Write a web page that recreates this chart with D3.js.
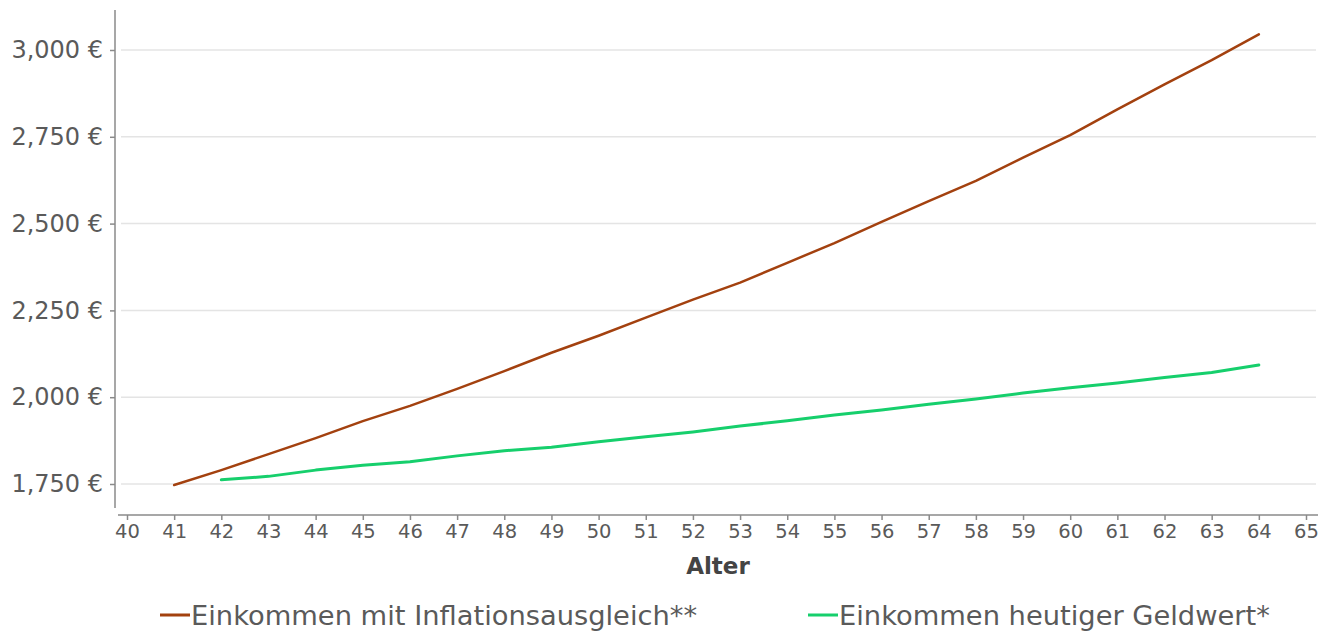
<!DOCTYPE html>
<html>
<head>
<meta charset="utf-8">
<script src="https://cdn.jsdelivr.net/npm/d3@7"></script>
<style>
  html, body { margin: 0; padding: 0; background: #fff; }
  svg { display: block; font-family: "DejaVu Sans", sans-serif; }
</style>
</head>
<body>
<svg id="chart" width="1339" height="633"></svg>
<script>
// ---- data ----
const agesInflation = [41,42,43,44,45,46,47,48,49,50,51,52,53,54,55,56,57,58,59,60,61,62,63,64];
const incomeInflation = [1747,1790,1836,1882,1931,1975,2024,2075,2128,2177,2229,2281,2330,2387,2444,2505,2565,2623,2690,2755,2829,2901,2971,3045];
const agesToday = [42,43,44,45,46,47,48,49,50,51,52,53,54,55,56,57,58,59,60,61,62,63,64];
const incomeToday = [1762,1772,1790,1804,1814,1831,1846,1856,1872,1886,1900,1917,1932,1949,1963,1980,1995,2012,2027,2041,2057,2071,2093];
const xTicks = d3.range(40, 66);
const yTicks = [1750, 2000, 2250, 2500, 2750, 3000];
const seriesNames = ["Einkommen mit Inflationsausgleich**", "Einkommen heutiger Geldwert*"];
const seriesColors = ["#a3410f", "#16cf6c"];
const xTitle = "Alter";

// ---- layout ----
const svg = d3.select("#chart");
const x = d3.scaleLinear().domain([40, 65]).range([127, 1306]);
const y = d3.scaleLinear().domain([1750, 3000]).range([484, 50]);
const plotTop = 10, plotBottom = 508, axisY = 515, axisX = 115;

// gridlines
svg.append("g").selectAll("line").data(yTicks).join("line")
  .attr("x1", 121).attr("x2", 1316)
  .attr("y1", d => y(d)).attr("y2", d => y(d))
  .attr("stroke", "#e4e4e4").attr("stroke-width", 1.5);

// y axis
const yAxis = d3.axisLeft(y).tickValues(yTicks).tickSize(5).tickPadding(7)
  .tickFormat(d => d3.format(",")(d) + " €");
const gy = svg.append("g").attr("transform", `translate(${axisX},0)`).call(yAxis);
gy.select(".domain").remove();
gy.append("line").attr("x1", 0).attr("x2", 0).attr("y1", plotTop).attr("y2", plotBottom)
  .attr("stroke", "#8a8a8a").attr("stroke-width", 1.5);
gy.selectAll(".tick line").attr("stroke", "#8a8a8a").attr("stroke-width", 1.5);
gy.selectAll(".tick text").attr("fill", "#5a5a5a").style("font-size", "24px")
  .style("font-family", "DejaVu Sans, sans-serif");

// x axis
const xAxis = d3.axisBottom(x).tickValues(xTicks).tickSize(5).tickPadding(4).tickFormat(d3.format("d"));
const gx = svg.append("g").attr("transform", `translate(0,${axisY})`).call(xAxis);
gx.select(".domain").remove();
gx.append("line").attr("x1", 118).attr("x2", 1318).attr("y1", 0).attr("y2", 0)
  .attr("stroke", "#8a8a8a").attr("stroke-width", 1.5);
gx.selectAll(".tick line").attr("stroke", "#8a8a8a").attr("stroke-width", 1.5);
gx.selectAll(".tick text").attr("fill", "#5a5a5a").style("font-size", "19.5px")
  .style("font-family", "DejaVu Sans, sans-serif");

svg.append("text").attr("x", 718).attr("y", 574).attr("text-anchor", "middle")
  .attr("fill", "#444").style("font-size", "23px").style("font-weight", "bold").text(xTitle);

// lines
const line = d3.line().x(d => x(d[0])).y(d => y(d[1]));
const seriesData = [
  d3.zip(agesInflation, incomeInflation),
  d3.zip(agesToday, incomeToday)
];
svg.append("g").selectAll("path").data(seriesData).join("path")
  .attr("d", line).attr("fill", "none")
  .attr("stroke", (d, i) => seriesColors[i])
  .attr("stroke-width", (d, i) => i === 0 ? 2.5 : 3)
  .attr("stroke-linejoin", "round").attr("stroke-linecap", "round");

// legend
const legendX = [160, 808];
const lg = svg.append("g").selectAll("g").data(seriesNames).join("g")
  .attr("transform", (d, i) => `translate(${legendX[i]},615)`);
lg.append("line").attr("x1", 0).attr("x2", 30).attr("y1", 0).attr("y2", 0)
  .attr("stroke", (d, i) => seriesColors[i]).attr("stroke-width", 3);
lg.append("text").attr("x", 31).attr("y", 0).attr("dy", "0.36em")
  .attr("fill", "#5a5a5a").style("font-size", "27.3px").text(d => d);
</script>
</body>
</html>
